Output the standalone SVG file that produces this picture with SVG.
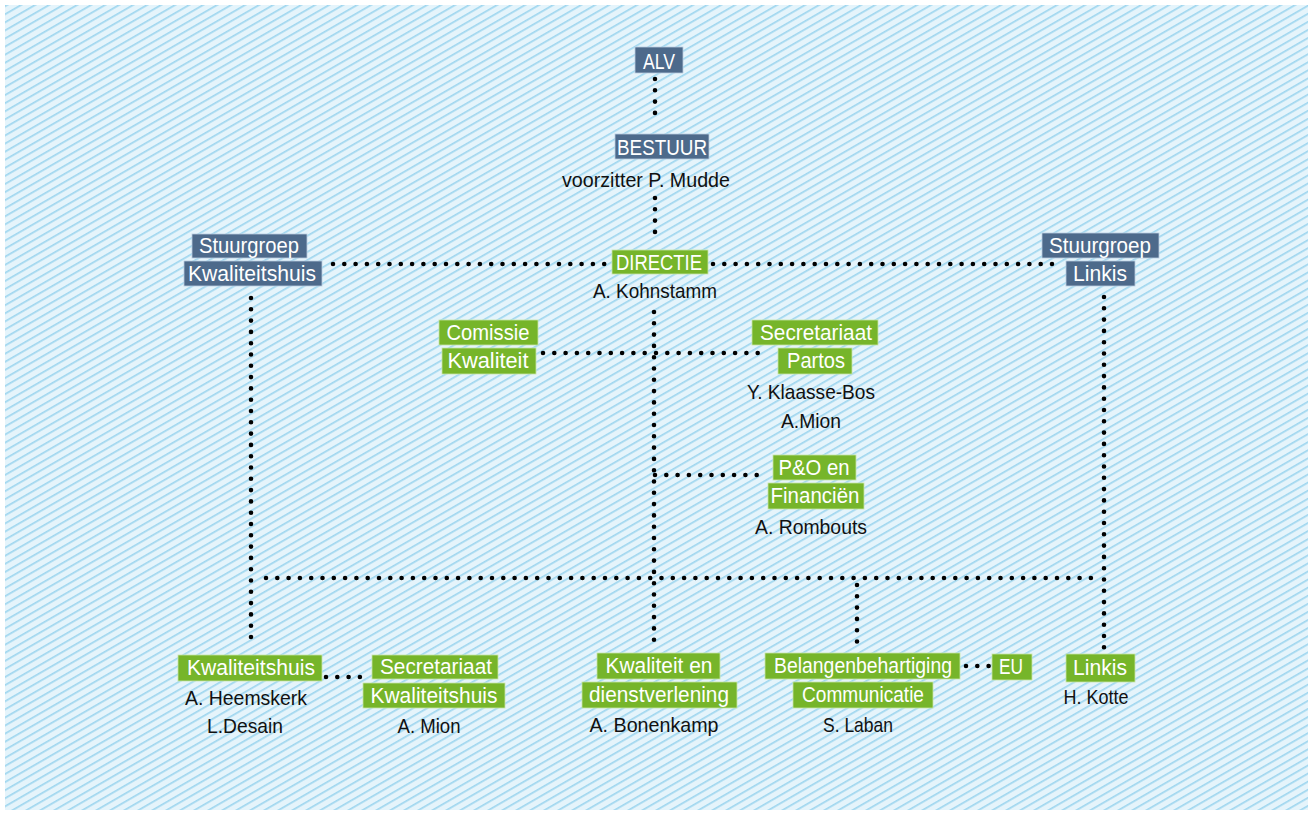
<svg xmlns="http://www.w3.org/2000/svg" width="1314" height="814" viewBox="0 0 1314 814">
<defs>
<pattern id="hatch" width="7" height="7" patternUnits="userSpaceOnUse" patternTransform="rotate(-30)">
<rect width="7" height="7" fill="#e5f4fb"/>
<rect width="7" height="1.7" fill="#9fd6ef"/>
</pattern>
<style>
.b{fill:#4d6a8b;stroke:#b9cde0;stroke-width:0.8}
.g{fill:#76b52a;stroke:#c8e6a8;stroke-width:0.8}
.lt{font-family:"Liberation Sans",Arial,sans-serif;font-size:21.5px;fill:#ffffff;text-anchor:middle}
.nm{font-family:"Liberation Sans",Arial,sans-serif;font-size:21px;fill:#111111;text-anchor:middle}
.dot{fill:none;stroke:#000;stroke-width:4.6;stroke-linecap:round;stroke-dasharray:0 11.3}
</style>
</defs>
<rect x="0" y="0" width="1314" height="814" fill="#ffffff"/>
<rect x="5" y="5" width="1303" height="805" fill="url(#hatch)"/>

<g id="connectors">
<path class="dot" d="M655 79V124"/>
<path class="dot" d="M655 198V243"/>
<path class="dot" d="M333 264H606"/>
<path class="dot" d="M713 264H1055"/>
<path class="dot" d="M251 298V648"/>
<path class="dot" d="M1104 297V648"/>
<path class="dot" d="M654 312V647"/>
<path class="dot" d="M543 353H765"/>
<path class="dot" d="M655 475H766"/>
<path class="dot" d="M266 578H1100"/>
<path class="dot" d="M857 585V645"/>
<path class="dot" d="M326 677H371"/>
<path class="dot" d="M966 666H989"/>
</g>

<g id="alv">
<rect class="b" x="635" y="47" width="48" height="26"/>
<text class="lt" x="659" y="69" textLength="32" lengthAdjust="spacingAndGlyphs">ALV</text>
</g>
<g id="bestuur">
<rect class="b" x="615" y="134" width="94" height="25"/>
<text class="lt" x="662" y="155" textLength="90" lengthAdjust="spacingAndGlyphs">BESTUUR</text>
<text class="nm" x="646" y="187" textLength="168" lengthAdjust="spacingAndGlyphs">voorzitter P. Mudde</text>
</g>
<g id="stuurgroep-kwaliteitshuis">
<rect class="b" x="192" y="234" width="115" height="24"/>
<text class="lt" x="249" y="253" textLength="100" lengthAdjust="spacingAndGlyphs">Stuurgroep</text>
<rect class="b" x="184" y="261" width="138" height="25"/>
<text class="lt" x="252" y="281" textLength="128" lengthAdjust="spacingAndGlyphs">Kwaliteitshuis</text>
</g>
<g id="directie">
<rect class="g" x="612" y="250" width="96" height="24"/>
<text class="lt" x="659" y="270" textLength="86" lengthAdjust="spacingAndGlyphs">DIRECTIE</text>
<text class="nm" x="655" y="298" textLength="124" lengthAdjust="spacingAndGlyphs">A. Kohnstamm</text>
</g>
<g id="stuurgroep-linkis">
<rect class="b" x="1042" y="233" width="117" height="25"/>
<text class="lt" x="1100" y="253" textLength="102" lengthAdjust="spacingAndGlyphs">Stuurgroep</text>
<rect class="b" x="1066" y="261" width="69" height="25"/>
<text class="lt" x="1100" y="281" textLength="54" lengthAdjust="spacingAndGlyphs">Linkis</text>
</g>
<g id="comissie-kwaliteit">
<rect class="g" x="439" y="320" width="99" height="25"/>
<text class="lt" x="488" y="340" textLength="83" lengthAdjust="spacingAndGlyphs">Comissie</text>
<rect class="g" x="442" y="348" width="94" height="26"/>
<text class="lt" x="488" y="368" textLength="81" lengthAdjust="spacingAndGlyphs">Kwaliteit</text>
</g>
<g id="secretariaat-partos">
<rect class="g" x="752" y="320" width="126" height="25"/>
<text class="lt" x="816" y="340" textLength="112" lengthAdjust="spacingAndGlyphs">Secretariaat</text>
<rect class="g" x="778" y="348" width="74" height="26"/>
<text class="lt" x="816" y="368" textLength="58" lengthAdjust="spacingAndGlyphs">Partos</text>
<text class="nm" x="811" y="399" textLength="128" lengthAdjust="spacingAndGlyphs">Y. Klaasse-Bos</text>
<text class="nm" x="811" y="428" textLength="60" lengthAdjust="spacingAndGlyphs">A.Mion</text>
</g>
<g id="po-financien">
<rect class="g" x="773" y="455" width="83" height="25"/>
<text class="lt" x="814" y="475" textLength="71" lengthAdjust="spacingAndGlyphs">P&amp;O en</text>
<rect class="g" x="768" y="483" width="96" height="26"/>
<text class="lt" x="815" y="503" textLength="89" lengthAdjust="spacingAndGlyphs">Financiën</text>
<text class="nm" x="811" y="534" textLength="112" lengthAdjust="spacingAndGlyphs">A. Rombouts</text>
</g>
<g id="kwaliteitshuis">
<rect class="g" x="178" y="655" width="144" height="26"/>
<text class="lt" x="251" y="675" textLength="128" lengthAdjust="spacingAndGlyphs">Kwaliteitshuis</text>
<text class="nm" x="246" y="705" textLength="122" lengthAdjust="spacingAndGlyphs">A. Heemskerk</text>
<text class="nm" x="245" y="733" textLength="76" lengthAdjust="spacingAndGlyphs">L.Desain</text>
</g>
<g id="secretariaat-kwaliteitshuis">
<rect class="g" x="372" y="655" width="126" height="24"/>
<text class="lt" x="436" y="674" textLength="112" lengthAdjust="spacingAndGlyphs">Secretariaat</text>
<rect class="g" x="363" y="683" width="142" height="25"/>
<text class="lt" x="434" y="703" textLength="127" lengthAdjust="spacingAndGlyphs">Kwaliteitshuis</text>
<text class="nm" x="429" y="733" textLength="63" lengthAdjust="spacingAndGlyphs">A. Mion</text>
</g>
<g id="kwaliteit-dienstverlening">
<rect class="g" x="597" y="653" width="123" height="26"/>
<text class="lt" x="659" y="673" textLength="107" lengthAdjust="spacingAndGlyphs">Kwaliteit en</text>
<rect class="g" x="582" y="682" width="155" height="26"/>
<text class="lt" x="659" y="702" textLength="140" lengthAdjust="spacingAndGlyphs">dienstverlening</text>
<text class="nm" x="654" y="732" textLength="129" lengthAdjust="spacingAndGlyphs">A. Bonenkamp</text>
</g>
<g id="belangenbehartiging">
<rect class="g" x="765" y="653" width="195" height="26"/>
<text class="lt" x="863" y="673" textLength="178" lengthAdjust="spacingAndGlyphs">Belangenbehartiging</text>
<rect class="g" x="793" y="682" width="140" height="26"/>
<text class="lt" x="863" y="702" textLength="122" lengthAdjust="spacingAndGlyphs">Communicatie</text>
<text class="nm" x="858" y="732" textLength="70" lengthAdjust="spacingAndGlyphs">S. Laban</text>
</g>
<g id="eu">
<rect class="g" x="992" y="654" width="40" height="26"/>
<text class="lt" x="1011" y="674" textLength="24" lengthAdjust="spacingAndGlyphs">EU</text>
</g>
<g id="linkis">
<rect class="g" x="1066" y="654" width="69" height="28"/>
<text class="lt" x="1100" y="675" textLength="54" lengthAdjust="spacingAndGlyphs">Linkis</text>
<text class="nm" x="1096" y="704" textLength="65" lengthAdjust="spacingAndGlyphs">H. Kotte</text>
</g>
</svg>
